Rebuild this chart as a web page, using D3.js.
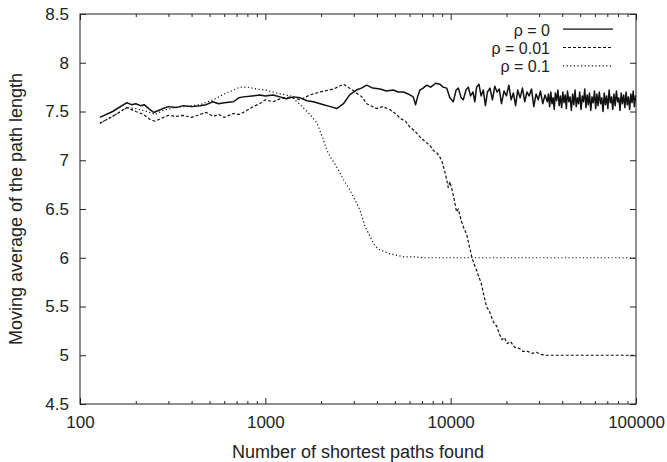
<!DOCTYPE html>
<html>
<head>
<meta charset="utf-8">
<script src="https://cdn.jsdelivr.net/npm/d3@7/dist/d3.min.js"></script>
<style>
  html, body { margin: 0; padding: 0; background: #fff; }
  svg { display: block; font-family: "Liberation Sans", Arial, Helvetica, sans-serif; }
</style>
</head>
<body>
<svg id="chart" width="667" height="462"></svg>
<script>
// ---- data ----
const xMajorTicks = [100, 1000, 10000, 100000];
const xMinorTicks = [200,300,400,500,600,700,800,900,
                     2000,3000,4000,5000,6000,7000,8000,9000,
                     20000,30000,40000,50000,60000,70000,80000,90000];
const yTicks = [4.5, 5, 5.5, 6, 6.5, 7, 7.5, 8, 8.5];
const yTickLabels = ["4.5", "5", "5.5", "6", "6.5", "7", "7.5", "8", "8.5"];
const xTitle = "Number of shortest paths found";
const yTitle = "Moving average of the path length";
const seriesNames = ["ρ = 0", "ρ = 0.01", "ρ = 0.1"];

// rho = 0 (solid)
const rho0 = [
 [128,7.44],[150,7.50],[179,7.59],[190,7.57],[200,7.58],[212,7.56],[222,7.57],[235,7.53],[250,7.49],
 [265,7.51],[280,7.53],[300,7.55],[330,7.54],[360,7.56],[400,7.55],[444,7.56],[480,7.57],[520,7.60],
 [560,7.58],[600,7.59],[672,7.60],[720,7.64],[760,7.65],[850,7.66],[935,7.67],[1000,7.66],[1100,7.67],
 [1200,7.65],[1300,7.63],[1420,7.65],[1540,7.64],[1680,7.61],[1820,7.60],[2060,7.57],[2250,7.55],
 [2430,7.53],[2640,7.58],[2850,7.67],[3100,7.72],[3300,7.74],[3520,7.77],[3800,7.74],[4160,7.73],
 [4500,7.71],[4910,7.72],[5200,7.70],[5560,7.70],[5900,7.68],[6280,7.65],[6470,7.57],[6650,7.66],
 [6830,7.72],[7100,7.74],[7430,7.77],[7800,7.75],[8300,7.79],[8760,7.78],[9100,7.75],[9520,7.74],
 [9900,7.64],[10330,7.60],[10700,7.72],[11000,7.74],[11400,7.64],[11700,7.62],[12100,7.72],[12450,7.75],
 [12800,7.66],[13200,7.70],[13500,7.60],[13800,7.75],[14200,7.78],[14600,7.66],[15000,7.72],[15400,7.56],
 [15800,7.70],[16300,7.74],[16800,7.62],[17300,7.76],[17800,7.70],[18300,7.73],[18800,7.58],[19400,7.71],
 [20000,7.66],[20600,7.77],[21200,7.62],[21800,7.69],[22400,7.56],[23000,7.72],[23700,7.64],[24400,7.74],
 [25100,7.60],[25800,7.70],[26500,7.66],[27300,7.73],[28100,7.55],[28900,7.68],[29700,7.62],[30500,7.71],
 [31400,7.58],[32300,7.67],
 [33200,7.60],[33700,7.68],[34200,7.55],[34700,7.70],[35200,7.58],[35700,7.64],[36200,7.52],[36700,7.69],
 [37300,7.61],[37900,7.72],[38500,7.56],[39100,7.66],[39700,7.54],[40300,7.70],[40900,7.59],[41500,7.67],
 [42100,7.53],[42700,7.71],[43400,7.60],[44100,7.65],[44800,7.51],[45500,7.68],[46200,7.57],[46900,7.72],
 [47600,7.55],[48300,7.64],[49000,7.58],[49700,7.70],[50500,7.52],[51300,7.66],[52100,7.60],[52900,7.73],
 [53700,7.54],[54500,7.67],[55300,7.57],[56100,7.69],[57000,7.51],[57900,7.65],[58800,7.59],[59700,7.71],
 [60600,7.53],[61500,7.68],[62400,7.56],[63400,7.70],[64400,7.58],[65400,7.64],[66400,7.50],[67400,7.69],
 [68400,7.57],[69400,7.66],[70500,7.53],[71600,7.72],[72700,7.59],[73800,7.65],[74900,7.52],[76000,7.68],
 [77200,7.56],[78400,7.71],[79600,7.60],[80800,7.64],[82000,7.51],[83200,7.69],[84500,7.58],[85800,7.67],
 [87100,7.54],[88400,7.70],[89700,7.57],[91000,7.65],[92400,7.52],[93800,7.68],[95200,7.59],[96600,7.71],
 [98000,7.55],[99400,7.66],[100000,7.61]
];

// rho = 0.01 (dashed)
const rho001 = [
 [128,7.38],[150,7.45],[179,7.54],[200,7.50],[220,7.47],[238,7.42],[254,7.40],[275,7.43],[300,7.46],
 [330,7.45],[360,7.46],[400,7.44],[444,7.47],[480,7.49],[524,7.45],[560,7.47],[600,7.44],[672,7.48],
 [720,7.47],[760,7.49],[860,7.55],[930,7.58],[1000,7.62],[1100,7.60],[1200,7.63],[1370,7.65],[1540,7.62],
 [1740,7.67],[1970,7.70],[2330,7.73],[2640,7.78],[2800,7.75],[3050,7.70],[3320,7.65],[3520,7.58],
 [3990,7.53],[4300,7.55],[4700,7.52],[5100,7.47],[5330,7.43],[5700,7.40],[6030,7.34],[6400,7.30],
 [6830,7.24],[7200,7.20],[7740,7.15],[8060,7.10],[8400,7.08],[8760,7.03],[9000,6.98],[9300,6.88],
 [9520,6.80],[9700,6.72],[9900,6.78],[10100,6.72],[10400,6.62],[10760,6.47],[11000,6.50],[11400,6.38],
 [11800,6.30],[12200,6.24],[12600,6.12],[13000,6.01],[13400,5.93],[13800,5.87],[14200,5.80],[14560,5.75],
 [15000,5.64],[15300,5.57],[15600,5.50],[16200,5.45],[17000,5.34],[17700,5.30],[18300,5.22],[18950,5.16],
 [19500,5.18],[20200,5.12],[21000,5.14],[22200,5.08],[23500,5.07],[24500,5.04],[26000,5.04],[27500,5.02],
 [29000,5.03],[30500,5.01],[33000,5.00],[36000,5.00],[100000,5.00]
];

// rho = 0.1 (dotted)
const rho01 = [
 [128,7.38],[150,7.45],[179,7.54],[200,7.53],[230,7.50],[254,7.47],[280,7.51],[320,7.54],[360,7.55],
 [444,7.57],[524,7.62],[600,7.68],[672,7.72],[730,7.75],[800,7.75],[900,7.73],[1000,7.72],[1150,7.69],
 [1370,7.66],[1540,7.57],[1740,7.47],[1900,7.38],[2050,7.22],[2140,7.11],[2230,7.04],[2430,6.93],
 [2640,6.80],[2850,6.70],[3050,6.59],[3240,6.49],[3450,6.32],[3670,6.22],[3900,6.12],[4160,6.08],
 [4700,6.04],[5560,6.01],[6300,6.01],[7000,6.00],[100000,6.00]
];

// ---- chart ----
const svg = d3.select("#chart");
const L = 80, R = 636, T = 14, B = 404;
const x = d3.scaleLog().domain([100, 100000]).range([L, R]);
const y = d3.scaleLinear().domain([4.5, 8.5]).range([B, T]);
const axisColor = "#222";
const textColor = "#222";

function styleAxis(g) {
  g.select(".domain").remove();
  g.selectAll(".tick line").attr("stroke", axisColor).attr("stroke-width", 1);
  g.selectAll(".tick text").attr("fill", textColor)
    .style("font-family", "'Liberation Sans', Arial, sans-serif").style("font-size", "17px");
}
svg.append("g").attr("transform", `translate(0,${B})`)
  .call(d3.axisBottom(x).tickValues(xMinorTicks).tickSize(-3).tickFormat(""))
  .call(styleAxis);
svg.append("g").attr("transform", `translate(0,${T})`)
  .call(d3.axisTop(x).tickValues(xMinorTicks).tickSize(-3).tickFormat(""))
  .call(styleAxis);
svg.append("g").attr("transform", `translate(0,${B})`)
  .call(d3.axisBottom(x).tickValues(xMajorTicks).tickSize(-6).tickPadding(12).tickFormat(d3.format("d")))
  .call(styleAxis);
svg.append("g").attr("transform", `translate(0,${T})`)
  .call(d3.axisTop(x).tickValues(xMajorTicks).tickSize(-6).tickFormat(""))
  .call(styleAxis);
svg.append("g").attr("transform", `translate(${L},0)`)
  .call(d3.axisLeft(y).tickValues(yTicks).tickSize(-6).tickPadding(11)
        .tickFormat((d, i) => yTickLabels[i]))
  .call(styleAxis);
svg.append("g").attr("transform", `translate(${R},0)`)
  .call(d3.axisRight(y).tickValues(yTicks).tickSize(-6).tickFormat(""))
  .call(styleAxis);

// frame
svg.append("rect").attr("x", L).attr("y", T).attr("width", R - L).attr("height", B - T)
  .attr("fill", "none").attr("stroke", axisColor).attr("stroke-width", 1);

// lines
const line = d3.line().x(d => x(d[0])).y(d => y(d[1]));
const styles = [
  { data: rho0,   dash: null,      w: 1.5 },
  { data: rho001, dash: "3,2",     w: 1.2 },
  { data: rho01,  dash: "1.2,2.4", w: 1.2 }
];
svg.append("clipPath").attr("id", "clip").append("rect")
  .attr("x", L).attr("y", T).attr("width", R - L).attr("height", B - T);
[styles[2], styles[1], styles[0]].forEach(s => {
  svg.append("path").datum(s.data)
    .attr("d", line).attr("fill", "none").attr("stroke", "#111")
    .attr("stroke-width", s.w).attr("stroke-linejoin", "round")
    .attr("stroke-dasharray", s.dash).attr("clip-path", "url(#clip)");
});

// legend
const legendBase = [35.7, 54, 72.3];
styles.forEach((s, i) => {
  svg.append("text").attr("x", 550).attr("y", legendBase[i])
    .attr("text-anchor", "end").attr("fill", textColor)
    .style("font-size", "16px").text(seriesNames[i]);
  svg.append("line").attr("x1", 563).attr("x2", 613)
    .attr("y1", legendBase[i] - 6.5).attr("y2", legendBase[i] - 6.5)
    .attr("stroke", "#111").attr("stroke-width", i === 0 ? 1.3 : s.w)
    .attr("stroke-dasharray", s.dash);
});

// axis titles
svg.append("text").attr("x", (L + R) / 2).attr("y", 458)
  .attr("text-anchor", "middle").attr("fill", textColor)
  .style("font-size", "18px").text(xTitle);
svg.append("text").attr("transform", `translate(22,${(T + B) / 2}) rotate(-90)`)
  .attr("text-anchor", "middle").attr("fill", textColor)
  .style("font-size", "18px").text(yTitle);
</script>
</body>
</html>
